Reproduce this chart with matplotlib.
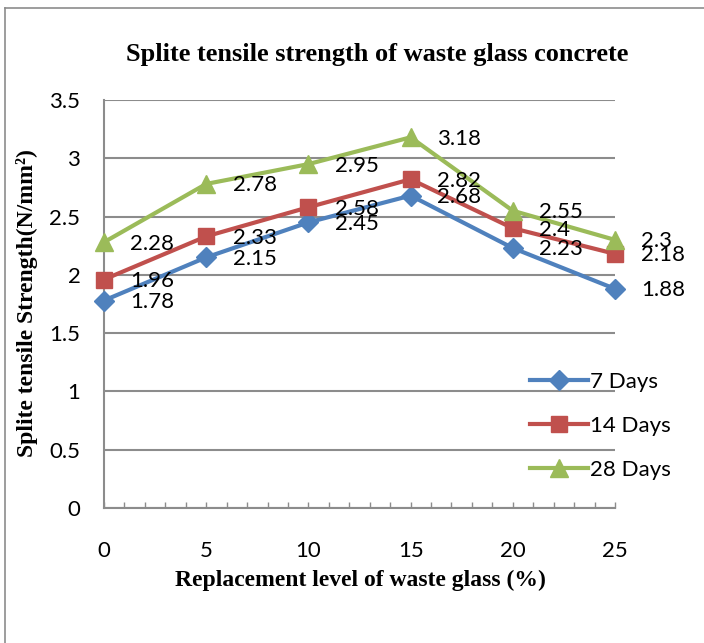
"""Splite tensile strength of waste glass concrete"""
import matplotlib.pyplot as plt
from matplotlib.lines import Line2D
from matplotlib.ticker import MultipleLocator

W, H = 704, 643
DPI = 100

replacement = [0, 5, 10, 15, 20, 25]
days_7 = [1.78, 2.15, 2.45, 2.68, 2.23, 1.88]
days_14 = [1.96, 2.33, 2.58, 2.82, 2.4, 2.18]
days_28 = [2.28, 2.78, 2.95, 3.18, 2.55, 2.3]
series_names = ['7 Days', '14 Days', '28 Days']

COLORS = ['#4F81BD', '#C0504D', '#9BBB59']
MARKERS = ['D', 's', '^']
MSIZE = [10, 11.5, 12.5]
GRID = '#8C8C8C'
SANS = ['Lato', 'DejaVu Sans']
SERIF = ['Liberation Serif', 'DejaVu Serif']

fig = plt.figure(figsize=(W / DPI, H / DPI), dpi=DPI)

# outer chart frame (only left/top edges are visible in the crop)
fig.add_artist(Line2D([5 / W, 5 / W], [0, 1 - 8 / H], transform=fig.transFigure, color='#8C8C8C', lw=1.2))
fig.add_artist(Line2D([5 / W, 1], [1 - 8 / H, 1 - 8 / H], transform=fig.transFigure, color='#8C8C8C', lw=1.2))

ax = fig.add_axes([104 / W, 1 - 508 / H, (615 - 104) / W, (508 - 100) / H])
ax.set_xlim(0, 25)
ax.set_ylim(0, 3.5)
ax.yaxis.set_major_locator(MultipleLocator(0.5))
ax.xaxis.set_major_locator(MultipleLocator(5))
ax.xaxis.set_minor_locator(MultipleLocator(1))
ax.grid(axis='y', color=GRID, lw=1.5)
ax.set_axisbelow(True)
for side in ['top', 'right']:
    ax.spines[side].set_visible(False)
for side in ['left', 'bottom']:
    ax.spines[side].set_color(GRID)
    ax.spines[side].set_linewidth(1.5)
ax.tick_params(axis='y', length=0, pad=17, labelsize=16)
ax.tick_params(axis='x', which='both', direction='in', length=4, color=GRID, width=1, pad=24, labelsize=16)
ax.set_xticks(replacement, [str(v) for v in replacement], family=SANS)
ax.set_yticks([0, 0.5, 1, 1.5, 2, 2.5, 3, 3.5], ['0', '0.5', '1', '1.5', '2', '2.5', '3', '3.5'], family=SANS)

all_series = [days_7, days_14, days_28]
handles = []
for values, name, color, marker, ms in zip(all_series, series_names, COLORS, MARKERS, MSIZE):
    line, = ax.plot(replacement, values, color=color, lw=3, marker=marker, ms=ms,
                    label=name, clip_on=False, zorder=3)
    handles.append(line)
    for x, y in zip(replacement, values):
        ax.annotate(f'{y:g}', (x, y), xytext=(19, -1), textcoords='offset points',
                    ha='left', va='center', fontsize=16, family=SANS, zorder=4)

fig.legend(handles=handles, loc='upper left', bbox_to_anchor=(530 / W, 1 - 372 / H),
           frameon=False, prop={'family': SANS, 'size': 16}, handlelength=2.6,
           handletextpad=0.1, labelspacing=1.07, borderaxespad=0, borderpad=0)

fig.text(377 / W, 1 - 55 / H, 'Splite tensile strength of waste glass concrete',
         ha='center', va='center', fontsize=19, fontweight='bold', family=SERIF)
fig.text(360 / W, 1 - 580 / H, 'Replacement level of waste glass (%)',
         ha='center', va='center', fontsize=17, fontweight='bold', family=SERIF)
fig.text(27 / W, 1 - 303 / H, 'Splite tensile Strength(N/mm²)', rotation=90,
         ha='center', va='center', fontsize=17, fontweight='bold', family=SERIF)

fig.savefig('out.png', dpi=DPI)
